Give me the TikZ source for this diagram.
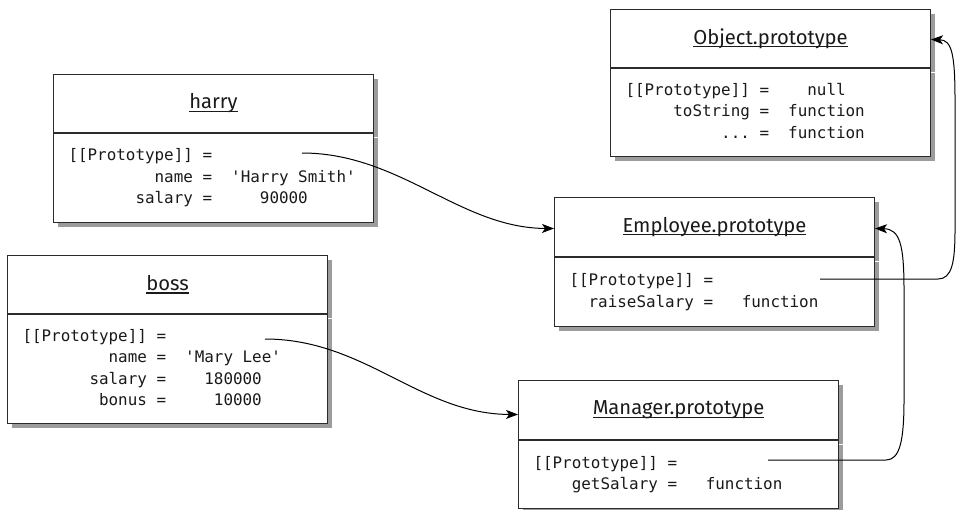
\documentclass[tikz,border=0pt]{standalone}
\usepackage{fontspec}
\setmonofont{DejaVu Sans Mono}
\newfontfamily\titlefont{Fira Sans}
\usetikzlibrary{positioning,shadows,arrows.meta,calc}
\definecolor{boxline}{HTML}{2B2B2B}
\definecolor{boxshadow}{HTML}{9C9C9C}
\definecolor{inktext}{HTML}{1A1A1A}
\newcommand{\titleul}[1]{\setbox0\hbox{#1}\rlap{\rule[-3pt]{\wd0}{1.1pt}}\box0}
% fixed blanks, one character wide each
\newcommand{\pad}[1]{\hspace*{#1\fontcharwd\font`0}}
\tikzset{
  objbox/.style={draw=boxline, line width=1pt, fill=white, minimum width=320pt, text=inktext,
    drop shadow={shadow xshift=4pt, shadow yshift=-4pt, fill=boxshadow, opacity=1}},
  objtitle/.style={objbox, anchor=north west, minimum height=58pt, inner sep=0pt,
    font=\titlefont\fontsize{20.2}{24}\selectfont},
  objbody/.style={objbox, below=0pt of #1, text width=290pt, inner xsep=15pt, inner ysep=0pt,
    align=left, font=\ttfamily\fontsize{15.9}{21.5}\selectfont},
  divider/.style={draw=boxline, line width=2pt},
  ptr/.style={draw=black, line width=1pt, -{Stealth[length=12pt,width=9pt,inset=3pt]}}
}

\begin{document}
\begin{tikzpicture}[x=1pt,y=-1pt]
  \useasboundingbox (0,0) rectangle (957,509);
  % objects
  \node[objtitle] (harry) at (53,74) {\titleul{harry}};
  \node[objbody=harry, minimum height=89pt] (harry-body) {\begin{tabular}{@{}r@{\pad{1}=}l@{}}
    [[Prototype]] & \\
    name & \pad{2}'Harry\pad{1}Smith'\\
    salary & \pad{5}90000
  \end{tabular}};
  \node[objtitle] (boss) at (7,255) {\titleul{boss}};
  \node[objbody=boss, minimum height=109pt] (boss-body) {\begin{tabular}{@{}r@{\pad{1}=}l@{}}
    [[Prototype]] & \\
    name & \pad{2}'Mary\pad{1}Lee'\\
    salary & \pad{4}180000\\
    bonus & \pad{5}10000
  \end{tabular}};
  \node[objtitle, minimum height=59pt] (emp) at (554,197) {\titleul{Employee.prototype}};
  \node[objbody=emp, minimum height=69pt] (emp-body) {\begin{tabular}{@{}r@{\pad{1}=}l@{}}
    [[Prototype]] & \\
    raiseSalary & \pad{3}function
  \end{tabular}};
  \node[objtitle, minimum height=59pt] (mgr) at (518,380) {\titleul{Manager.prototype}};
  \node[objbody=mgr, minimum height=68pt] (mgr-body) {\begin{tabular}{@{}r@{\pad{1}=}l@{}}
    [[Prototype]] & \\
    getSalary & \pad{3}function
  \end{tabular}};
  \node[objtitle] (obj) at (610,9) {\titleul{Object.prototype}};
  \node[objbody=obj, minimum height=88pt] (obj-body) {\begin{tabular}{@{}r@{\pad{1}=}l@{}}
    [[Prototype]] & \pad{4}null\\
    toString & \pad{2}function\\
    ... & \pad{2}function
  \end{tabular}};
  \foreach \n in {harry,boss,emp,mgr,obj}
    \draw[divider] (\n.south west) -- (\n.south east);

  % prototype links
  \coordinate (harry-ptr) at (302,153);
  \coordinate (boss-ptr) at (265,339);
  \coordinate (emp-ptr) at (820,279);
  \coordinate (mgr-ptr) at (768,460);
  \draw[ptr] (harry-ptr) .. controls (400,153) and (460,228) .. ($(emp.west)+(0,1.5)$);
  \draw[ptr] (boss-ptr) .. controls (365,339) and (420,414) .. ($(mgr.west)+(0,4.5)$);
  \draw[ptr] (emp-ptr) -- (938,279) .. controls (952,279) and (955,262) .. (955,230)
    -- (955,100) .. controls (955,55) and (952,40) .. ($(obj.east)+(0,1)$);
  \draw[ptr] (mgr-ptr) -- (886,460) .. controls (900,460) and (904,440) .. (904,400)
    -- (904,290) .. controls (904,245) and (900,229) .. ($(emp.east)+(0,1.5)$);
\end{tikzpicture}
\end{document}
